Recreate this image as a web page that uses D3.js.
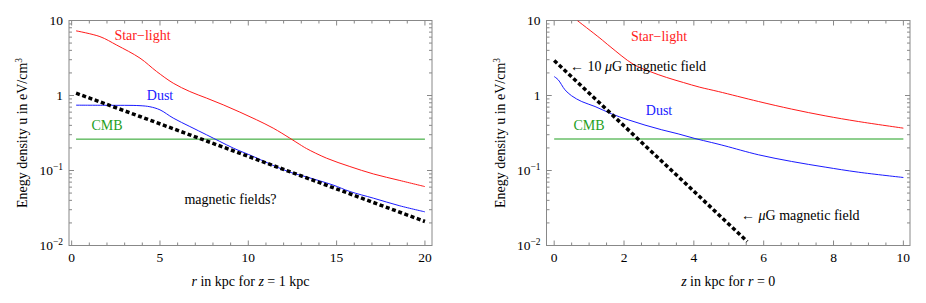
<!DOCTYPE html>
<html>
<head>
<meta charset="utf-8">
<script src="https://cdn.jsdelivr.net/npm/d3@7"></script>
<style>
  body { margin: 0; background: white; }
</style>
</head>
<body>
<div id="chart"></div>
<script>
// left panel: r in kpc at z = 1 kpc
const rStar = [0.25, 1.6, 2.55, 3.87, 4.81, 5.75, 6.69, 7.64, 8.58, 9.52, 10.47, 11.41, 12.35, 12.92, 13.3, 14.43, 15.75, 17.08, 18.58, 20];
const uStarR = [7.28, 6.1, 4.7, 3.15, 2.09, 1.46, 1.13, 0.923, 0.751, 0.601, 0.474, 0.367, 0.27, 0.222, 0.196, 0.146, 0.113, 0.090, 0.0736, 0.061];
const rDust = [0.25, 2.0, 3.87, 4.43, 5.0, 5.75, 6.69, 7.64, 8.39, 9.15, 10.28, 11.4, 12.36, 13.3, 14.8, 15.75, 17.08, 18.58, 20];
const uDustR = [0.743, 0.74, 0.732, 0.708, 0.644, 0.5, 0.386, 0.299, 0.244, 0.199, 0.154, 0.117, 0.095, 0.082, 0.064, 0.0525, 0.0428, 0.0338, 0.0281];
const rField = [0.25, 3.87, 20];
const uFieldR = [1.074, 0.525, 0.0209];
const rCmb = [0.25, 20];
const uCmbR = [0.262, 0.262];

// right panel: z in kpc at r = 0
const zStar = [0.66, 1.31, 1.6, 2.26, 2.74, 3.22, 3.70, 4.17, 4.7, 5.85, 6.8, 7.76, 8.71, 10];
const uStarZ = [10, 5.82, 4.5, 2.62, 2.09, 1.74, 1.49, 1.29, 1.13, 0.832, 0.659, 0.536, 0.45, 0.367];
const zDust = [0, 0.115, 0.31, 0.5, 0.79, 1.17, 1.64, 2.12, 2.6, 3.08, 3.55, 4.03, 4.51, 4.89, 5.85, 6.8, 7.76, 8.71, 10];
const uDustZ = [1.79, 1.62, 1.19, 0.99, 0.83, 0.713, 0.57, 0.474, 0.403, 0.349, 0.308, 0.267, 0.236, 0.213, 0.162, 0.132, 0.111, 0.095, 0.0807];
const zField = [0, 3.6, 5.53];
const uFieldZ = [2.93, 0.079, 0.0113];
const zCmb = [0, 10];
const uCmbZ = [0.263, 0.263];

const yMajor = [10, 1, 0.1, 0.01];
const yMajorLabels = [["10", ""], ["1", ""], ["10", "\u22121"], ["10", "\u22122"]];

const red = "#ff1a1a", blue = "#1a1aff", green = "#1f9f1f";
const serif = "'Liberation Serif', 'Times New Roman', Times, 'DejaVu Serif', serif";

const width = 926, height = 303;
const svg = d3.select("#chart").append("svg")
    .attr("width", width).attr("height", height)
    .attr("font-family", serif)
    .style("font-family", serif);

function zip(xs, ys) { return xs.map((x, i) => [x, ys[i]]); }

function panel(opt) {
    const x = d3.scaleLinear().domain(opt.xDomain).range([opt.left, opt.right]);
    const y = d3.scaleLog().domain([0.01, 10]).range([245.5, 20.5]);
    const g = svg.append("g");

    const clipId = "clip" + opt.id;
    svg.append("clipPath").attr("id", clipId).append("rect")
        .attr("x", opt.left).attr("y", 20.5)
        .attr("width", opt.right - opt.left).attr("height", 225);

    // frame
    g.append("rect")
        .attr("x", opt.left).attr("y", 20.5)
        .attr("width", opt.right - opt.left).attr("height", 225)
        .attr("fill", "none").attr("stroke", "#888").attr("stroke-width", 1);

    // x ticks (inward, bottom and top)
    const xMinor = d3.range(opt.xTickMin, opt.xTickMax + 1e-9, opt.xMinorStep);
    xMinor.forEach(v => {
        const major = Math.abs(v / opt.xMajorStep - Math.round(v / opt.xMajorStep)) < 1e-6;
        const len = major ? 5 : 3;
        const px = x(v);
        g.append("line").attr("x1", px).attr("x2", px).attr("y1", 245.5).attr("y2", 245.5 - len)
            .attr("stroke", "#888");
        g.append("line").attr("x1", px).attr("x2", px).attr("y1", 20.5).attr("y2", 20.5 + len)
            .attr("stroke", "#888");
        if (major) {
            g.append("text").attr("x", px).attr("y", 262)
                .attr("text-anchor", "middle").attr("font-size", 13.5)
                .text(d3.format("d")(v));
        }
    });

    // y ticks (log, inward, left and right)
    [0.01, 0.1, 1].forEach(dec => {
        d3.range(1, 11).forEach(k => {
            const v = dec * k;
            const major = k === 1 || k === 10;
            const len = major ? 5 : 3;
            const py = y(v);
            g.append("line").attr("x1", opt.left).attr("x2", opt.left + len).attr("y1", py).attr("y2", py)
                .attr("stroke", "#888");
            g.append("line").attr("x1", opt.right).attr("x2", opt.right - len).attr("y1", py).attr("y2", py)
                .attr("stroke", "#888");
        });
    });
    yMajor.forEach((v, i) => {
        const t = g.append("text").attr("x", opt.left - 6).attr("y", y(v) + 4.5)
            .attr("text-anchor", "end").attr("font-size", 13.5);
        t.append("tspan").text(yMajorLabels[i][0]);
        if (yMajorLabels[i][1]) {
            t.append("tspan").attr("dy", -5).attr("font-size", 9.5).text(yMajorLabels[i][1]);
        }
    });

    // axis titles
    const yt = g.append("text")
        .attr("transform", `translate(${opt.left - 42},133) rotate(-90)`)
        .attr("text-anchor", "middle").attr("font-size", 14);
    yt.append("tspan").text("Enegy density u in eV/cm");
    yt.append("tspan").attr("dy", -5).attr("font-size", 9.5).text("3");

    const xt = g.append("text").attr("x", (x(opt.xDomain[0]) + x(opt.xDomain[1])) / 2)
        .attr("y", 286).attr("text-anchor", "middle").attr("font-size", 14);
    opt.xTitle.forEach(p => {
        xt.append("tspan").attr("font-style", p[1] ? "italic" : "normal").text(p[0]);
    });

    // curves
    const line = d3.line().x(d => x(d[0])).y(d => y(d[1]));
    const smooth = d3.line().curve(d3.curveCatmullRom.alpha(0.5)).x(d => x(d[0])).y(d => y(d[1]));
    const curves = g.append("g").attr("clip-path", `url(#${clipId})`);
    curves.append("path").datum(opt.cmb).attr("d", line)
        .attr("fill", "none").attr("stroke", green).attr("stroke-width", 1);
    curves.append("path").datum(opt.star).attr("d", smooth)
        .attr("fill", "none").attr("stroke", red).attr("stroke-width", 1);
    curves.append("path").datum(opt.dust).attr("d", smooth)
        .attr("fill", "none").attr("stroke", blue).attr("stroke-width", 1);
    curves.append("path").datum(opt.field).attr("d", line)
        .attr("fill", "none").attr("stroke", "black").attr("stroke-width", 3.5)
        .attr("stroke-dasharray", "4,2.6");

    // annotations
    opt.labels.forEach(l => {
        g.append("text").attr("x", l.x).attr("y", l.y)
            .attr("text-anchor", l.anchor || "middle").attr("font-size", 14)
            .attr("fill", l.color).html(l.html);
    });
}

panel({
    id: "L",
    left: 69, right: 432,
    xDomain: [-0.15, 20.4],
    xTickMin: 0, xTickMax: 20, xMinorStep: 1, xMajorStep: 5,
    xTitle: [["r", true], [" in kpc for ", false], ["z", true], [" = 1 kpc", false]],
    star: zip(rStar, uStarR), dust: zip(rDust, uDustR),
    field: zip(rField, uFieldR), cmb: zip(rCmb, uCmbR),
    labels: [
        { x: 142.5, y: 40, color: red, html: "Star\u2212light" },
        { x: 160, y: 100, color: blue, html: "Dust" },
        { x: 107, y: 130, color: green, html: "CMB" },
        { x: 230.5, y: 204, color: "black", html: "magnetic fields?" }
    ]
});

panel({
    id: "R",
    left: 546.5, right: 910,
    xDomain: [-0.22, 10.19],
    xTickMin: 0, xTickMax: 10, xMinorStep: 0.5, xMajorStep: 2,
    xTitle: [["z", true], [" in kpc for ", false], ["r", true], [" = 0", false]],
    star: zip(zStar, uStarZ), dust: zip(zDust, uDustZ),
    field: zip(zField, uFieldZ), cmb: zip(zCmb, uCmbZ),
    labels: [
        { x: 659, y: 41, color: red, html: "Star\u2212light" },
        { x: 570, y: 71, color: "black", anchor: "start", html: "\u2190 10 <tspan font-style='italic'>\u03bc</tspan>G magnetic field" },
        { x: 659, y: 115, color: blue, html: "Dust" },
        { x: 589, y: 130, color: green, html: "CMB" },
        { x: 741, y: 220, color: "black", anchor: "start", html: "\u2190 <tspan font-style='italic'>\u03bc</tspan>G magnetic field" }
    ]
});
</script>
</body>
</html>
